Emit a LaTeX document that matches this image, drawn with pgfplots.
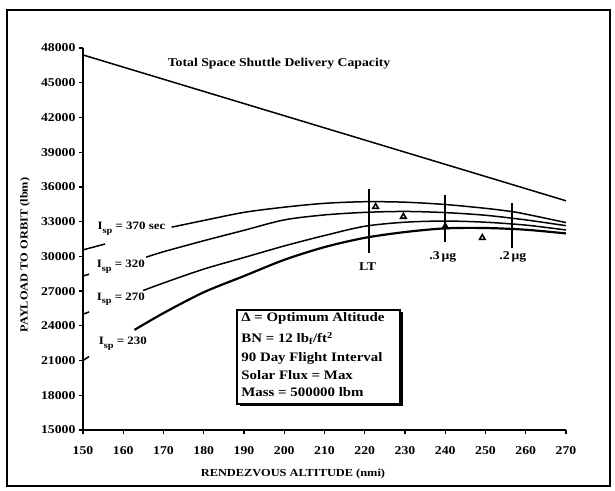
\documentclass[border=0pt]{standalone}
\usepackage{fontspec}
\setmainfont{Liberation Serif}[FakeStretch=1.15]
\usepackage{pgfplots}
\pgfplotsset{compat=1.18}

\newcommand{\Isp}{I\raisebox{-0.7ex}{\fontsize{9}{9}\selectfont sp}}

\begin{document}
\begin{tikzpicture}
\useasboundingbox (0,0) rectangle (615bp,491bp);
% outer frame of the figure
\draw[line width=2.6bp] (7bp,5bp) rectangle (610bp,481bp);

\begin{axis}[
    at={(83bp,61bp)}, anchor=south west,
    scale only axis,
    width=483bp, height=382bp,
    xmin=150, xmax=270,
    ymin=15000, ymax=48000,
    axis lines*=left,
    axis line style={line width=1.6bp},
    xtick={150,160,...,270},
    ytick={15000,18000,...,48000},
    scaled ticks=false,
    tick align=outside,
    major tick length=4bp,
    tick style={black, line width=1.3bp},
    font=\fontsize{12}{14}\selectfont\bfseries,
    xticklabel style={yshift=-9bp},
    /pgf/number format/1000 sep={},
    /pgf/number format/assume math mode=true,
    clip=false,
]

% total delivery capacity
\addplot[black, line width=1.5bp] coordinates {(150,47400) (270,34800)};

% Isp = 370 sec
\addplot[black, line width=1.5bp, smooth] coordinates {(150,30560) (155.5,31070)};
\addplot[black, line width=1.5bp, smooth] coordinates {
  (172,32520) (180,33100) (190,33800) (200,34250) (210,34580) (220,34720)
  (230,34680) (240,34480) (250,34150) (256.5,33870) (260,33650) (270,32920)};
% Isp = 320
\addplot[black, line width=1.5bp, smooth] coordinates {(150,28300) (151.5,28460)};
\addplot[black, line width=1.5bp, smooth] coordinates {
  (165.7,29930) (170,30400) (180,31350) (190,32250) (200,33150) (210,33580)
  (220,33800) (230,33880) (240,33780) (250,33550) (260,33150) (270,32650)};
% Isp = 270
\addplot[black, line width=1.5bp, smooth] coordinates {(150,25000) (151.5,25200)};
\addplot[black, line width=1.5bp, smooth] coordinates {
  (164.9,27040) (170,27700) (180,28900) (190,29900) (200,30900) (210,31800)
  (220,32600) (230,32950) (240,33050) (250,32950) (260,32700) (270,32280)};
% Isp = 230
\addplot[black, line width=1.5bp, smooth] coordinates {(150,21000) (151.5,21350)};
\addplot[black, line width=2.2bp, smooth] coordinates {
  (162.8,23650) (170,25100) (180,26900) (190,28300) (200,29700) (210,30800)
  (220,31600) (230,32100) (240,32420) (250,32450) (260,32300) (270,31980)};

% LT, .3 ug and .2 ug markers
\addplot[black, line width=1.7bp] coordinates {(221,30270) (221,35850)};
\addplot[black, line width=1.7bp] coordinates {(240,31270) (240,35260)};
\addplot[black, line width=1.7bp] coordinates {(256.5,30700) (256.5,34590)};

% optimum altitudes
\addplot[only marks, mark=triangle, mark size=3.2pt, black,
  mark options={line width=1.6bp}] coordinates {
  (222.7,34280) (229.6,33430) (240,32570) (249.2,31600)};

\node at (axis cs:198.7,46620) {Total Space Shuttle Delivery Capacity};
\begin{scope}[every node/.style={anchor=west, fill=white, inner sep=1.5bp, font=\fontsize{11.3}{13}\selectfont\bfseries}]
\node at (axis cs:153.2,32365) {\Isp{} = 370 sec};
\node at (axis cs:153,29110) {\Isp{} = 320};
\node at (axis cs:153,26300) {\Isp{} = 270};
\node at (axis cs:153.5,22430) {\Isp{} = 230};
\end{scope}
\node at (axis cs:220.7,29080) {LT};
\node at (axis cs:239.4,29970) {.3\,μg};
\node at (axis cs:256.8,29970) {.2\,μg};

% note box
\fill[black] ([xshift=2.5bp,yshift=-2.5bp]axis cs:188.3,25370) rectangle ([xshift=2.5bp,yshift=-2.5bp]axis cs:228.8,17250);
\draw[fill=white, line width=1.5bp] (axis cs:188.3,25370) rectangle (axis cs:228.8,17250);
\begin{scope}[every node/.style={anchor=west, inner sep=0pt, font=\fontsize{13}{15}\selectfont\bfseries}]
\node at (axis cs:189.3,24650) {Δ = Optimum Altitude};
\node at (axis cs:189.3,22920) {BN = 12 lb\textsubscript{f}/ft\textsuperscript{2}};
\node at (axis cs:189.3,21200) {90 Day Flight Interval};
\node at (axis cs:189.3,19750) {Solar Flux = Max};
\node at (axis cs:189.3,18310) {Mass = 500000 lbm};
\end{scope}
\end{axis}

\node[font=\fontsize{10.8}{13}\selectfont\bfseries] at (293bp,17bp) {RENDEZVOUS ALTITUDE (nmi)};
\node[font=\fontsize{10.8}{13}\selectfont\bfseries, rotate=90] at (25bp,236bp) {PAYLOAD TO ORBIT (lbm)};
\end{tikzpicture}
\end{document}
